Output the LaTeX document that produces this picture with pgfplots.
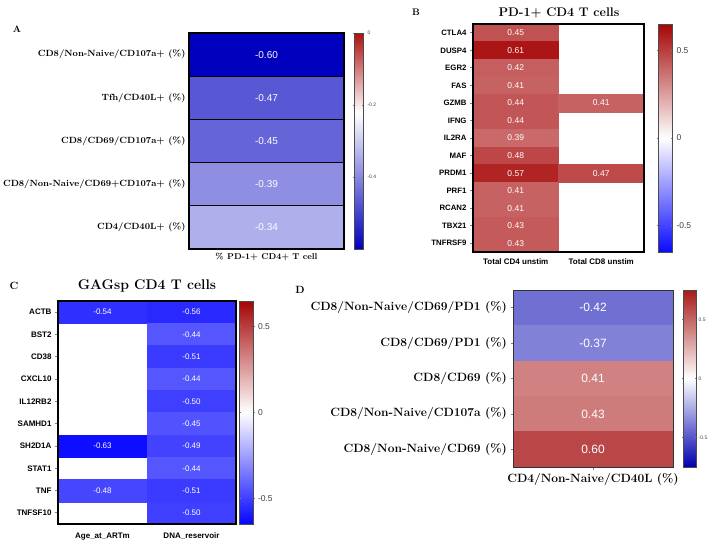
\documentclass[border=0pt]{standalone}
\usepackage{fontspec}
\newfontfamily\arial{Liberation Sans}
\usepackage{pgfplots}
\usepgfplotslibrary{patchplots}
\pgfplotsset{compat=1.18}
\newcommand\fs[1]{\fontsize{#1}{#1}\selectfont}
\pgfplotsset{
  colorbar shift/.style={},
  hm/.style={scale only axis, anchor=north west, enlargelimits=false, y dir=reverse, axis on top,
    /pgf/number format/assume math mode=true},
  cells/.style={patch, patch type=rectangle, shader=flat, point meta=explicit},
  labs/.style={only marks, mark=none, draw=none, fill=none, point meta=explicit symbolic, nodes near coords,
    every node near coord/.append style={anchor=center, text=white, inner sep=0pt}},
  cbar/.style={at={(parent axis.north east)}, anchor=north west, scale only axis,
    yticklabel pos=right, major tick length=2pt, tick align=center,
    axis line style={gray!60!black, line width=0.6pt},
    /pgf/number format/assume math mode=true,
    yticklabel style={text=black!75}},
}
\begin{document}
\begin{tikzpicture}[x=1pt,y=1pt]
\useasboundingbox (0pt,0pt) rectangle (713pt,-547pt);
% ---------- panel labels and titles
\node[font=\bfseries\fs{9.5}] at (17pt,-29pt) {A};
\node[font=\bfseries\fs{9.5}] at (416pt,-12pt) {B};
\node[font=\bfseries\fs{10.5}] at (14pt,-286pt) {C};
\node[font=\bfseries\fs{10.5}] at (300pt,-290pt) {D};
\node[font=\bfseries\fs{12.5}] at (559pt,-13pt) {PD-1+ CD4 T cells};
\node[font=\bfseries\fs{14}] at (147pt,-286pt) {GAGsp CD4 T cells};
% ---------- A
\begin{axis}[hm, at={(189pt,-33pt)}, width=155pt, height=216pt,
  xmin=-0.5, xmax=0.5, ymin=-0.5, ymax=4.5,
  xtick={0}, xticklabels={\% PD-1+ CD4+ T cell}, ytick={0,...,4},
  yticklabels={CD8/Non-Naive/CD107a+ (\%), Tfh/CD40L+ (\%), CD8/CD69/CD107a+ (\%), CD8/Non-Naive/CD69+CD107a+ (\%), CD4/CD40L+ (\%)},
  yticklabel style={font=\bfseries\fs{9}},
  xticklabel style={font=\bfseries\fs{8.5}, yshift=-1pt},
  major tick length=0pt,
  axis line style={line width=1.2pt},
  colormap={cmA}{rgb255(0cm)=(0,0,190); rgb255(6.3cm)=(255,255,255); rgb255(10cm)=(175,15,15)},
  point meta min=-0.6, point meta max=0,
  colorbar, colorbar style={cbar, xshift=10pt, width=9pt, height=216pt,
    ytick={-0.4,-0.2,0}, yticklabel style={font=\arial\fs{5}}}]
\addplot[cells, shader=faceted, faceted color=black, line width=1.2pt] coordinates {
(-0.5,-0.5)[-0.60] (0.5,-0.5)[-0.60] (0.5,0.5)[-0.60] (-0.5,0.5)[-0.60]
(-0.5,0.5)[-0.47] (0.5,0.5)[-0.47] (0.5,1.5)[-0.47] (-0.5,1.5)[-0.47]
(-0.5,1.5)[-0.45] (0.5,1.5)[-0.45] (0.5,2.5)[-0.45] (-0.5,2.5)[-0.45]
(-0.5,2.5)[-0.39] (0.5,2.5)[-0.39] (0.5,3.5)[-0.39] (-0.5,3.5)[-0.39]
(-0.5,3.5)[-0.34] (0.5,3.5)[-0.34] (0.5,4.5)[-0.34] (-0.5,4.5)[-0.34]
};
\addplot[labs, every node near coord/.append style={font=\arial\fs{10}}] coordinates {
(0,0)[-0.60] (0,1)[-0.47] (0,2)[-0.45] (0,3)[-0.39] (0,4)[-0.34]
};
\end{axis}
% ---------- B
\begin{axis}[hm, at={(473pt,-24pt)}, width=171pt, height=228pt,
  xmin=-0.5, xmax=1.5, ymin=-0.5, ymax=12.5,
  xtick={0,1}, xticklabels={Total CD4 unstim, Total CD8 unstim},
  ytick={0,...,12},
  yticklabels={CTLA4,DUSP4,EGR2,FAS,GZMB,IFNG,IL2RA,MAF,PRDM1,PRF1,RCAN2,TBX21,TNFRSF9},
  yticklabel style={font=\arial\bfseries\fs{7.8}},
  xticklabel style={font=\arial\bfseries\fs{8}},
  ytick pos=left, xtick style={draw=none}, tick align=outside, major tick length=3pt,
  tick style={line width=0.8pt},
  axis line style={line width=1.1pt},
  colormap={cmB}{rgb255(0cm)=(10,10,255); rgb255(1cm)=(255,255,255); rgb255(2cm)=(165,5,5)},
  point meta min=-0.65, point meta max=0.65,
  colorbar, colorbar style={cbar, xshift=14pt, width=14pt, height=228pt,
    ytick={-0.5,0,0.5}, yticklabel style={font=\arial\fs{8.5}}}]
\addplot[cells] coordinates {
(-0.5,-0.5)[0.45] (0.5,-0.5)[0.45] (0.5,0.5)[0.45] (-0.5,0.5)[0.45]
(-0.5,0.5)[0.61] (0.5,0.5)[0.61] (0.5,1.5)[0.61] (-0.5,1.5)[0.61]
(-0.5,1.5)[0.42] (0.5,1.5)[0.42] (0.5,2.5)[0.42] (-0.5,2.5)[0.42]
(-0.5,2.5)[0.41] (0.5,2.5)[0.41] (0.5,3.5)[0.41] (-0.5,3.5)[0.41]
(-0.5,3.5)[0.44] (0.5,3.5)[0.44] (0.5,4.5)[0.44] (-0.5,4.5)[0.44]
(-0.5,4.5)[0.44] (0.5,4.5)[0.44] (0.5,5.5)[0.44] (-0.5,5.5)[0.44]
(-0.5,5.5)[0.39] (0.5,5.5)[0.39] (0.5,6.5)[0.39] (-0.5,6.5)[0.39]
(-0.5,6.5)[0.48] (0.5,6.5)[0.48] (0.5,7.5)[0.48] (-0.5,7.5)[0.48]
(-0.5,7.5)[0.57] (0.5,7.5)[0.57] (0.5,8.5)[0.57] (-0.5,8.5)[0.57]
(-0.5,8.5)[0.41] (0.5,8.5)[0.41] (0.5,9.5)[0.41] (-0.5,9.5)[0.41]
(-0.5,9.5)[0.41] (0.5,9.5)[0.41] (0.5,10.5)[0.41] (-0.5,10.5)[0.41]
(-0.5,10.5)[0.43] (0.5,10.5)[0.43] (0.5,11.5)[0.43] (-0.5,11.5)[0.43]
(-0.5,11.5)[0.43] (0.5,11.5)[0.43] (0.5,12.5)[0.43] (-0.5,12.5)[0.43]
(0.5,3.5)[0.41] (1.5,3.5)[0.41] (1.5,4.5)[0.41] (0.5,4.5)[0.41]
(0.5,7.5)[0.47] (1.5,7.5)[0.47] (1.5,8.5)[0.47] (0.5,8.5)[0.47]
};
\addplot[labs, every node near coord/.append style={font=\arial\fs{8.5}}] coordinates {
(0,0)[0.45] (0,1)[0.61] (0,2)[0.42] (0,3)[0.41] (0,4)[0.44] (0,5)[0.44] (0,6)[0.39]
(0,7)[0.48] (0,8)[0.57] (0,9)[0.41] (0,10)[0.41] (0,11)[0.43] (0,12)[0.43]
(1,4)[0.41] (1,8)[0.47]
};
\end{axis}
% ---------- C
\begin{axis}[hm, at={(58pt,-301pt)}, width=178pt, height=223pt,
  xmin=-0.5, xmax=1.5, ymin=-0.5, ymax=9.5,
  xtick={0,1}, xticklabels={Age\_at\_ARTm, DNA\_reservoir},
  ytick={0,...,9},
  yticklabels={ACTB,BST2,CD38,CXCL10,IL12RB2,SAMHD1,SH2D1A,STAT1,TNF,TNFSF10},
  yticklabel style={font=\arial\bfseries\fs{8}},
  xticklabel style={font=\arial\bfseries\fs{8}, yshift=-2pt},
  ytick pos=left, xtick style={draw=none}, tick align=outside, major tick length=3pt,
  tick style={line width=0.8pt},
  axis line style={line width=1.1pt},
  colormap={cmC}{rgb255(0cm)=(5,5,255); rgb255(1cm)=(255,255,255); rgb255(2cm)=(165,5,5)},
  point meta min=-0.65, point meta max=0.65,
  colorbar, colorbar style={cbar, xshift=3.5pt, width=14pt, height=223pt,
    ytick={-0.5,0,0.5}, yticklabel style={font=\arial\fs{8.5}}}]
\addplot[cells] coordinates {
(-0.5,-0.5)[-0.54] (0.5,-0.5)[-0.54] (0.5,0.5)[-0.54] (-0.5,0.5)[-0.54]
(-0.5,5.5)[-0.63] (0.5,5.5)[-0.63] (0.5,6.5)[-0.63] (-0.5,6.5)[-0.63]
(-0.5,7.5)[-0.48] (0.5,7.5)[-0.48] (0.5,8.5)[-0.48] (-0.5,8.5)[-0.48]
(0.5,-0.5)[-0.56] (1.5,-0.5)[-0.56] (1.5,0.5)[-0.56] (0.5,0.5)[-0.56]
(0.5,0.5)[-0.44] (1.5,0.5)[-0.44] (1.5,1.5)[-0.44] (0.5,1.5)[-0.44]
(0.5,1.5)[-0.51] (1.5,1.5)[-0.51] (1.5,2.5)[-0.51] (0.5,2.5)[-0.51]
(0.5,2.5)[-0.44] (1.5,2.5)[-0.44] (1.5,3.5)[-0.44] (0.5,3.5)[-0.44]
(0.5,3.5)[-0.50] (1.5,3.5)[-0.50] (1.5,4.5)[-0.50] (0.5,4.5)[-0.50]
(0.5,4.5)[-0.45] (1.5,4.5)[-0.45] (1.5,5.5)[-0.45] (0.5,5.5)[-0.45]
(0.5,5.5)[-0.49] (1.5,5.5)[-0.49] (1.5,6.5)[-0.49] (0.5,6.5)[-0.49]
(0.5,6.5)[-0.44] (1.5,6.5)[-0.44] (1.5,7.5)[-0.44] (0.5,7.5)[-0.44]
(0.5,7.5)[-0.51] (1.5,7.5)[-0.51] (1.5,8.5)[-0.51] (0.5,8.5)[-0.51]
(0.5,8.5)[-0.50] (1.5,8.5)[-0.50] (1.5,9.5)[-0.50] (0.5,9.5)[-0.50]
};
\addplot[labs, every node near coord/.append style={font=\arial\fs{8}}] coordinates {
(0,0)[-0.54] (0,6)[-0.63] (0,8)[-0.48]
(1,0)[-0.56] (1,1)[-0.44] (1,2)[-0.51] (1,3)[-0.44] (1,4)[-0.50]
(1,5)[-0.45] (1,6)[-0.49] (1,7)[-0.44] (1,8)[-0.51] (1,9)[-0.50]
};
\end{axis}
% ---------- D
\begin{axis}[hm, at={(513pt,-290pt)}, width=160pt, height=177pt,
  xmin=-0.5, xmax=0.5, ymin=-0.5, ymax=4.5,
  xtick={0}, xticklabels={CD4/Non-Naive/CD40L (\%)}, ytick={0,...,4},
  yticklabels={CD8/Non-Naive/CD69/PD1 (\%), CD8/CD69/PD1 (\%), CD8/CD69 (\%), CD8/Non-Naive/CD107a (\%), CD8/Non-Naive/CD69 (\%)},
  ticklabel style={font=\bfseries\fs{12}},
  tick pos=left, tick align=outside, major tick length=2.5pt,
  tick style={line width=0.6pt},
  axis line style={line width=1pt, black!80},
  colormap={cmD}{rgb255(0cm)=(0,0,175); rgb255(1cm)=(255,255,255); rgb255(2cm)=(168,25,25)},
  point meta min=-0.75, point meta max=0.75,
  colorbar, colorbar style={cbar, xshift=10pt, width=13pt, height=177pt,
    ytick={-0.5,0,0.5}, yticklabel style={font=\arial\fs{5}, inner sep=1.5pt}}]
\addplot[cells] coordinates {
(-0.5,-0.5)[-0.42] (0.5,-0.5)[-0.42] (0.5,0.5)[-0.42] (-0.5,0.5)[-0.42]
(-0.5,0.5)[-0.37] (0.5,0.5)[-0.37] (0.5,1.5)[-0.37] (-0.5,1.5)[-0.37]
(-0.5,1.5)[0.41] (0.5,1.5)[0.41] (0.5,2.5)[0.41] (-0.5,2.5)[0.41]
(-0.5,2.5)[0.43] (0.5,2.5)[0.43] (0.5,3.5)[0.43] (-0.5,3.5)[0.43]
(-0.5,3.5)[0.60] (0.5,3.5)[0.60] (0.5,4.5)[0.60] (-0.5,4.5)[0.60]
};
\addplot[labs, every node near coord/.append style={font=\arial\fs{12}}] coordinates {
(0,0)[-0.42] (0,1)[-0.37] (0,2)[0.41] (0,3)[0.43] (0,4)[0.60]
};
\end{axis}
\end{tikzpicture}
\end{document}
